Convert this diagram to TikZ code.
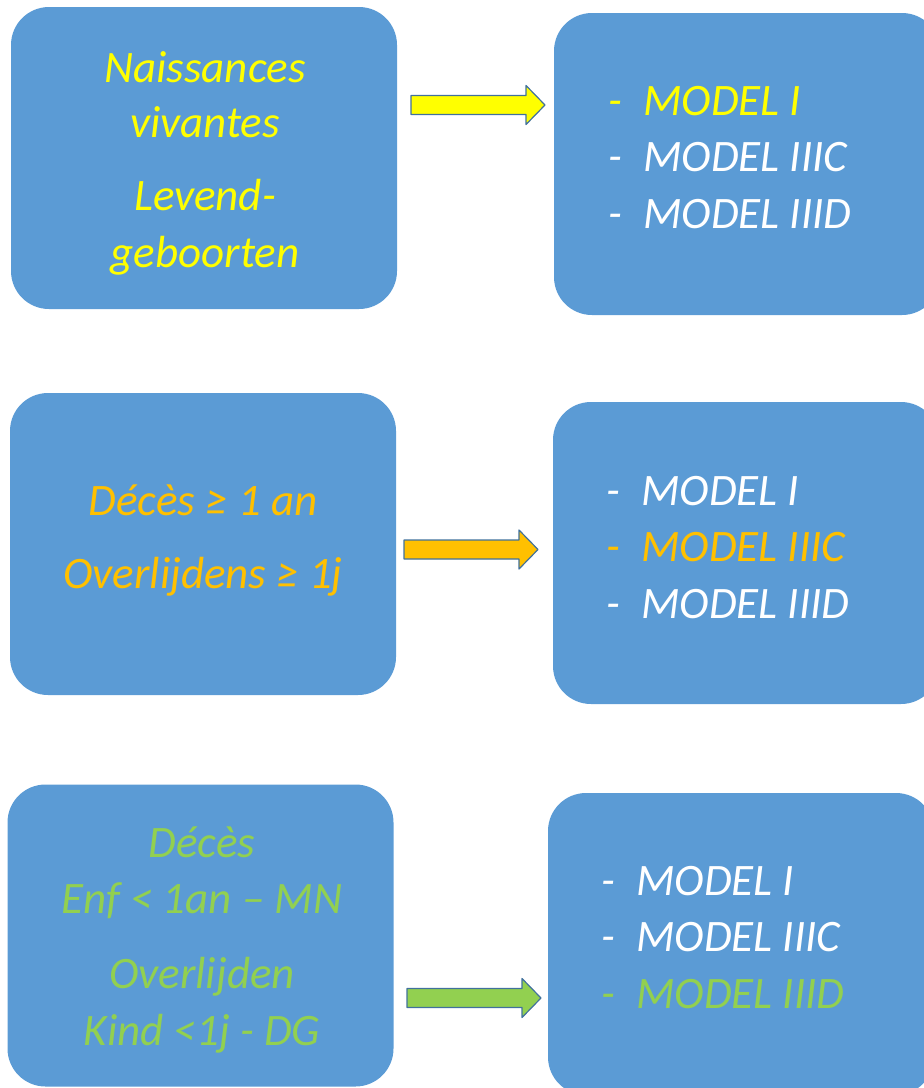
\documentclass[tikz,border=0pt]{standalone}
\usepackage{fontspec}
\setmainfont{Carlito}

\definecolor{boxblue}{HTML}{5B9BD5}
\definecolor{txtyellow}{HTML}{FFFF00}
\definecolor{txtorange}{HTML}{FFC000}
\definecolor{txtgreen}{HTML}{92D050}
\definecolor{arrowline}{HTML}{41719C}

\begin{document}
\begin{tikzpicture}[x=1pt,y=-1pt,line join=round]
  \tikzset{box/.style={fill=boxblue,rounded corners=38pt,minimum width=386pt,minimum height=302pt,inner sep=0pt},
    lbl/.style={font=\fontsize{45}{54}\selectfont\itshape,inner sep=0pt,anchor=base},
    blockarrow/.style={draw=arrowline,line width=1.2pt}}

  \useasboundingbox (0,0) rectangle (924,1088);
  \clip (0,0) rectangle (924,1088);

  % boxes
  \node[box] (src1) at (204,158) {};
  \node[box] (src2) at (203,544) {};
  \node[box] (src3) at (200.5,935.5) {};
  \node[box] (mod1) at (747,164) {};
  \node[box] (mod2) at (746,553) {};
  \node[box] (mod3) at (741,944) {};

  % block arrows
  \foreach \nm/\ax/\ay/\col in {arr1/411/105/txtyellow,arr2/404/549.5/txtorange,arr3/407/998/txtgreen} {
    \coordinate (\nm) at (\ax,\ay);
    \draw[blockarrow,fill=\col,shift={(\nm)}] (0,-9.5) -- (115,-9.5) -- (115,-19.5) -- (134,0)
      -- (115,19.5) -- (115,9.5) -- (0,9.5) -- cycle;
  }

  % left texts
  \node[lbl,text=txtyellow] (nv1) at (205,82) {Naissances};
  \node[lbl,text=txtyellow] (nv2) at (205,137) {vivantes};
  \node[lbl,text=txtyellow] (lg1) at (205,210) {Levend-};
  \node[lbl,text=txtyellow] (lg2) at (205,267) {geboorten};

  \node[lbl,text=txtorange] (dc1) at (203,515) {Décès ≥ 1 an};
  \node[lbl,text=txtorange] (ov1) at (203,588) {Overlijdens ≥ 1j};

  \node[lbl,text=txtgreen] (dc2) at (202,857) {Décès};
  \node[lbl,text=txtgreen] (en2) at (202,913) {Enf < 1an – MN};
  \node[lbl,text=txtgreen] (ov2) at (202,988) {Overlijden};
  \node[lbl,text=txtgreen] (kd2) at (202,1045) {Kind <1j - DG};

  % model lists
  \foreach \k/\bx/\by/\col in {1/608/115/txtyellow,2/606/505/txtorange,3/601/895/txtgreen} {
    \foreach \m/\lab in {1/I,2/IIIC,3/IIID} {
      \ifnum\m=\k \def\itemcol{\col}\else\def\itemcol{white}\fi
      \node[lbl,anchor=base west,text=\itemcol] (m\k\m) at (\bx,{\by+56.7*(\m-1)})
        {\makebox[35pt][l]{-}MODEL \lab};
    }
  }
\end{tikzpicture}
\end{document}
